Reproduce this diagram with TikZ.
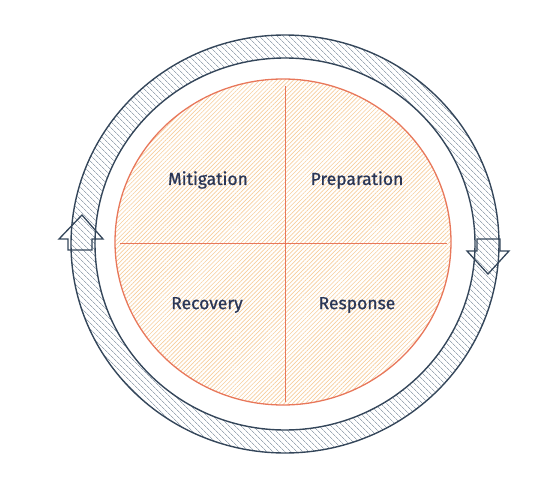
\documentclass[tikz,border=0pt]{standalone}
\usepackage{fontspec}
\setmainfont{Fira Sans}
\newfontfamily\lblfont{Fira Sans}[FakeBold=0.8]
\usetikzlibrary{patterns.meta}
\definecolor{ringline}{HTML}{34465A}
\definecolor{ringhatch}{HTML}{9DA9B5}
\definecolor{orangeline}{HTML}{E8775A}
\definecolor{peach}{HTML}{F6CD9C}
\definecolor{txt}{HTML}{2A3656}
\tikzset{
  ringfill/.style={pattern={Lines[angle=-45,distance=4pt,line width=0.75pt]},pattern color=ringhatch},
  ringedge/.style={draw=ringline,line width=1.4pt},
  discfill/.style={pattern={Lines[angle=45,distance=3pt,line width=0.65pt]},pattern color=peach},
  discedge/.style={draw=orangeline,line width=1.3pt},
  quadline/.style={draw=orangeline,line width=1pt},
  arrowshape/.style={draw=ringline,line width=1.3pt,line join=miter},
  label/.style={text=txt,font=\lblfont\fontsize{17.5}{21}\selectfont}
}
\begin{document}
\begin{tikzpicture}[x=1pt,y=-1pt]
\useasboundingbox (0,0) rectangle (550,484);
\coordinate (c) at (285,244);
% ring
\path[ringfill,even odd rule] (c) ellipse [x radius=214pt,y radius=209pt] (c) ellipse [x radius=190pt,y radius=186pt];
\draw[ringedge] (c) ellipse [x radius=214pt,y radius=209pt];
\draw[ringedge] (c) ellipse [x radius=190pt,y radius=186pt];
% disc
\coordinate (d) at (283,242);
\path[discfill] (d) ellipse [x radius=168pt,y radius=163pt];
\draw[discedge] (d) ellipse [x radius=168pt,y radius=163pt];
% quadrant lines
\coordinate (vt) at (285,86);
\coordinate (vb) at (285,402);
\coordinate (hl) at (120,244);
\coordinate (hr) at (447,244);
\draw[quadline] (vt) -- (vb);
\draw[quadline] (hl) -- (hr);
% arrows
\draw[arrowshape] (82,215) -- (103,239) -- (92,239) -- (92,250) -- (68,250) -- (68,239) -- (59,239) -- cycle;
\draw[arrowshape] (477,239) -- (500,239) -- (500,251) -- (509,251) -- (488,274) -- (467,251) -- (477,251) -- cycle;
% labels
\node[label] (mit) at (208,180) {Mitigation};
\node[label] (prep) at (357,180) {Preparation};
\node[label] (rec) at (207,305) {Recovery};
\node[label] (resp) at (357,305) {Response};
\end{tikzpicture}
\end{document}
